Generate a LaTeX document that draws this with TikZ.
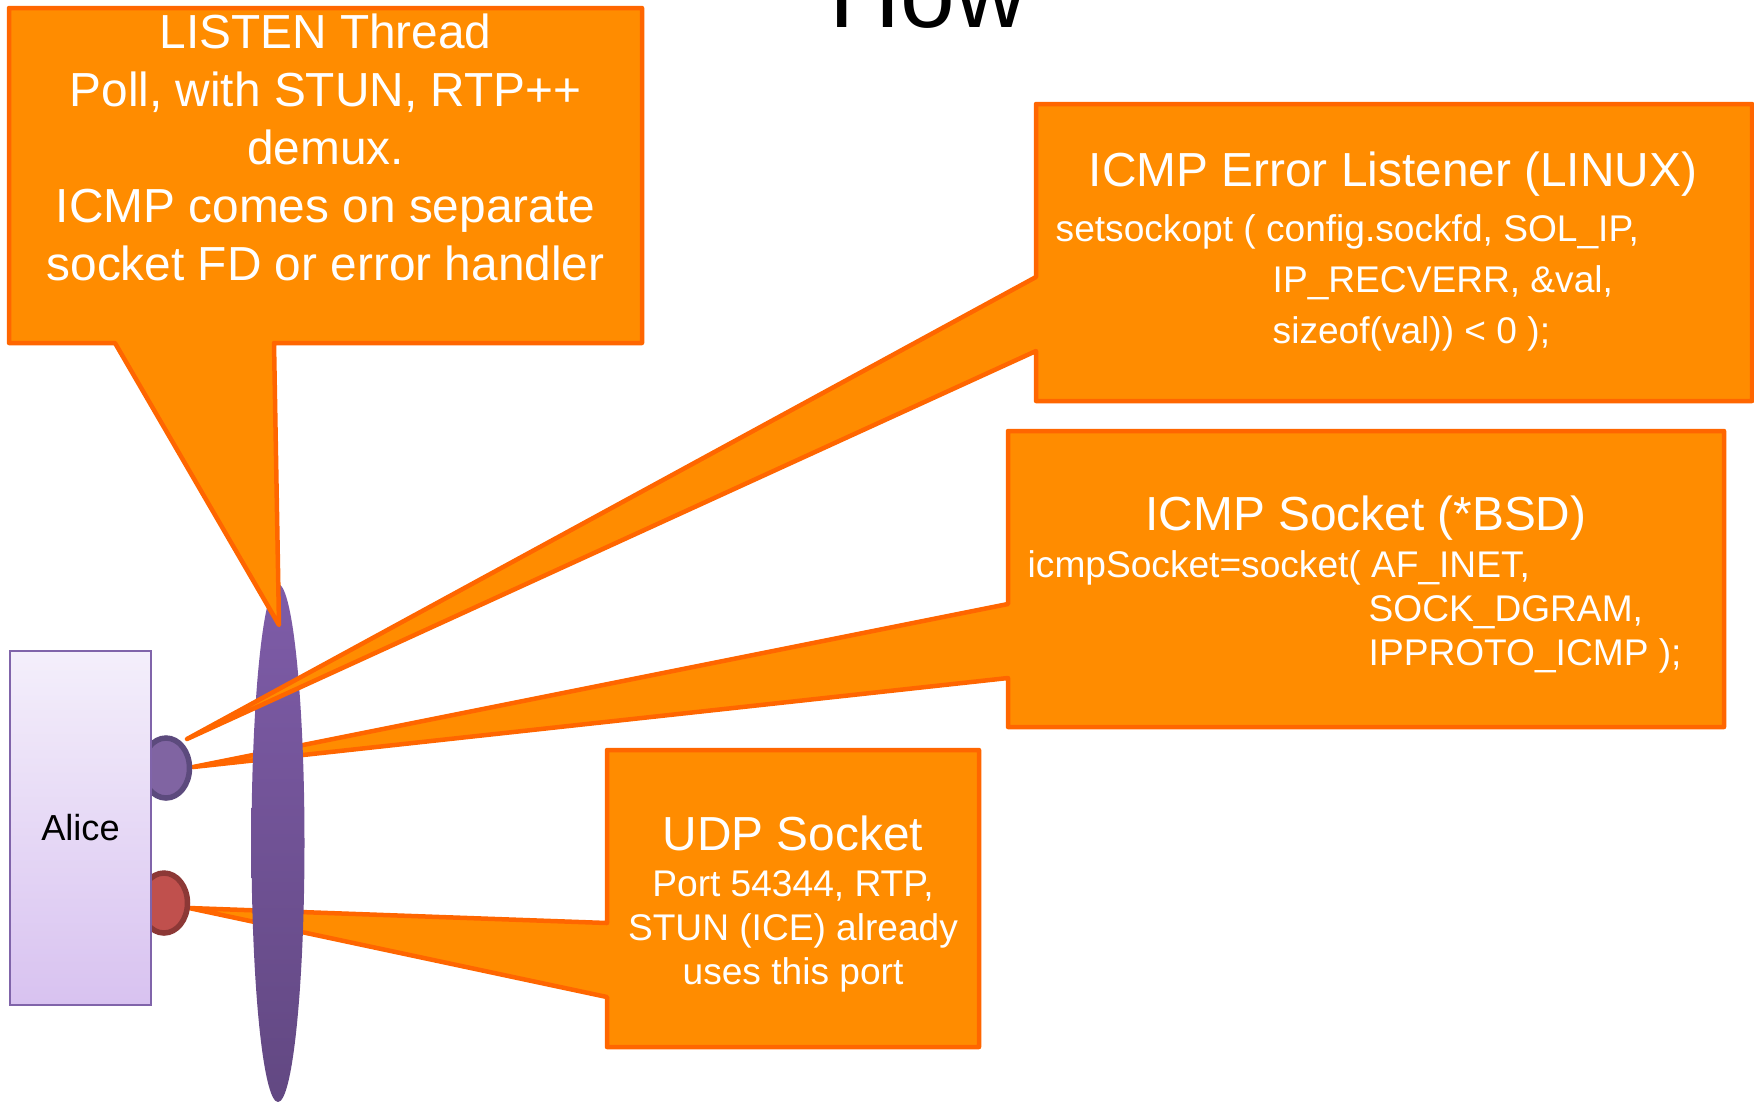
\documentclass[tikz,border=0pt]{standalone}
\usepackage{fontspec}
\setmainfont{Liberation Sans}
\usepackage{tikz}
\usetikzlibrary{shapes.geometric}
\definecolor{calloutFill}{RGB}{255, 140, 0}
\definecolor{calloutLine}{RGB}{255, 102, 0}
\definecolor{hostTop}{RGB}{244, 239, 251}
\definecolor{hostBottom}{RGB}{216, 194, 240}
\definecolor{hostLine}{RGB}{128, 100, 170}
\definecolor{socketTop}{RGB}{126, 92, 168}
\definecolor{socketBottom}{RGB}{98, 72, 130}
\definecolor{icmpPortFill}{RGB}{128, 100, 162}
\definecolor{icmpPortLine}{RGB}{92, 74, 125}
\definecolor{udpPortFill}{RGB}{192, 80, 77}
\definecolor{udpPortLine}{RGB}{140, 56, 54}
\tikzset{
    callout_shape/.style={
        fill=calloutFill,
        draw=calloutLine,
        line width=0.45mm,
        line join=round
    },
    callout_title/.style={
        text=white,
        inner sep=0pt,
        font=\fontsize{13.6}{16.45}\selectfont
    },
    callout_code/.style={
        text=white,
        inner sep=0pt,
        align=left,
        font=\fontsize{10.56}{14.58}\selectfont
    },
    host_box/.style={
        rectangle,
        draw=hostLine,
        line width=0.2mm,
        top color=hostTop,
        bottom color=hostBottom,
        minimum width=14.1mm,
        minimum height=35.4mm,
        font=\fontsize{10.3}{12.4}\selectfont
    },
    port_node/.style={
        ellipse,
        line width=0.55mm,
        minimum width=4.7mm,
        minimum height=6.0mm,
        inner sep=0pt
    },
    icmp_port/.style={
        port_node,
        fill=icmpPortFill,
        draw=icmpPortLine
    },
    udp_port/.style={
        port_node,
        fill=udpPortFill,
        draw=udpPortLine
    },
    listen_socket/.style={
        ellipse,
        inner sep=0pt,
        top color=socketTop,
        bottom color=socketBottom,
        minimum width=5.3mm,
        minimum height=51.8mm
    }
}

\begin{document}
\begin{tikzpicture}[x=0.1mm, y=-0.1mm]
    \useasboundingbox (0,0) rectangle (1754,1101);

    % where the callouts point
    \coordinate (listen_tip) at (279,625);
    \coordinate (linux_tip) at (187,739);
    \coordinate (bsd_tip) at (193,767);
    \coordinate (udp_tip) at (189,908);

    \node[anchor=base, inner sep=0pt, font=\fontsize{28}{33}\selectfont] (how_title) at (928,27) {How};

    % callouts that pass behind the socket
    \filldraw[callout_shape] (1008,431) -- (1724,431) -- (1724,727) -- (1008,727)
        -- (1008,678) -- (bsd_tip) -- (1008,604) -- cycle;
    \filldraw[callout_shape] (607,750) -- (979,750) -- (979,1047) -- (607,1047)
        -- (607,997) -- (udp_tip) -- (607,923) -- cycle;

    \node[listen_socket] (socket) at (278,843) {};

    % callouts drawn over the socket
    \filldraw[callout_shape] (1036,104) -- (1752,104) -- (1752,401) -- (1036,401)
        -- (1036,351) -- (linux_tip) -- (1036,277) -- cycle;
    \filldraw[callout_shape] (9,8) -- (642,8) -- (642,343) -- (274,343)
        -- (listen_tip) -- (115,343) -- (9,343) -- cycle;

    \node[icmp_port] (icmp_port) at (166,768) {};
    \node[udp_port] (udp_port) at (164,903) {};
    \node[host_box] (alice) at (80.5,828) {Alice};

    \node[callout_title, anchor=north, align=center] (listen_text) at (325.5,13.5)
        {LISTEN Thread\\Poll, with STUN, RTP++\\demux.\\ICMP comes on separate\\socket FD or error handler};

    \node[callout_title, anchor=base] (linux_title) at (1393,186) {ICMP Error Listener (LINUX)};
    \node[callout_code, anchor=north west] (linux_code) at (1055,213.4)
        {setsockopt ( config.sockfd, SOL\_IP,\\
         \hspace*{21.7mm}IP\_RECVERR, \&val,\\
         \hspace*{21.7mm}sizeof(val)) < 0 );};

    \node[callout_title, anchor=base] (bsd_title) at (1366,530) {ICMP Socket (*BSD)};
    \node[callout_code, anchor=north west, font=\fontsize{10.56}{12.52}\selectfont] (bsd_code) at (1027,550)
        {icmpSocket=socket( AF\_INET,\\
         \hspace*{34.1mm}SOCK\_DGRAM,\\
         \hspace*{34.1mm}IPPROTO\_ICMP );};

    \node[callout_title, anchor=base] (udp_title) at (793,850) {UDP Socket};
    \node[callout_code, anchor=north, align=center, font=\fontsize{10.56}{12.52}\selectfont] (udp_text) at (793,870)
        {Port 54344, RTP,\\STUN (ICE) already\\uses this port};
\end{tikzpicture}
\end{document}
